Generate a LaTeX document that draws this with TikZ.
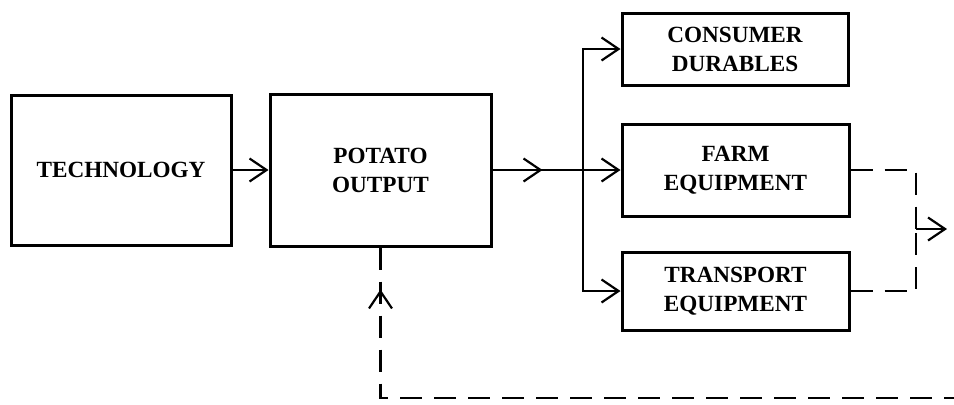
\documentclass[tikz,border=0pt]{standalone}
\usepackage{fontspec}
\setmainfont{Liberation Serif}
\usetikzlibrary{arrows.meta,decorations.markings}

\tikzset{
  box/.style={draw,line width=1.5pt,align=center,inner sep=0pt,
    font=\bfseries\fontsize{11.6}{14.5}\selectfont},
  tip/.style={-{Straight Barb[length=8.5pt,width=11.5pt,line width=1.1pt]}},
  flow/.style={line width=1.1pt,tip},
  fb/.style={line width=1.1pt,dash pattern=on 11pt off 6pt},
  midarr/.style={postaction={decorate},decoration={markings,
    mark=at position #1 with {\arrow[line width=1.1pt]{Straight Barb[length=8.5pt,width=11.5pt]}}}},
  backarr/.style={postaction={decorate},decoration={markings,
    mark=at position #1 with {\arrowreversed[line width=1.1pt]{Straight Barb[length=8.5pt,width=11.5pt]}}}}
}

\begin{document}
\begin{tikzpicture}[x=0.5pt,y=0.5pt]
  \useasboundingbox (0,0) rectangle (954,404);
  \node[box,minimum width=110pt,minimum height=75pt] (tech) at (121,234) {TECHNOLOGY};
  \node[box,minimum width=110.5pt,minimum height=76pt] (potato) at (380.5,234) {POTATO\\OUTPUT};
  \node[box,minimum width=113pt,minimum height=36pt] (cons) at (735,355) {CONSUMER\\DURABLES};
  \node[box,minimum width=113.5pt,minimum height=46pt] (farm) at (735.5,234) {FARM\\EQUIPMENT};
  \node[box,minimum width=113.5pt,minimum height=39pt] (trans) at (735.5,113) {TRANSPORT\\EQUIPMENT};
  \coordinate (split) at (583,234);
  \coordinate (join) at (916,175);
  \coordinate (exit) at (947,175);
  \coordinate (loop) at (954,6);
  % solid flows
  \draw[flow] (tech) -- (potato);
  \draw[line width=1.1pt,midarr=25pt] (potato.east) -- (split);
  \draw[flow] (split) |- (cons.west);
  \draw[flow] (split) -- (farm.west);
  \draw[flow] (split) |- (trans.west);
  % dashed returns
  \draw[fb] (farm.east) -| (join);
  \draw[fb] (trans.east) -| (join);
  \draw[flow] (join) -- (exit);
  \draw[fb,backarr=21pt] (potato.south) |- (loop);
\end{tikzpicture}
\end{document}
